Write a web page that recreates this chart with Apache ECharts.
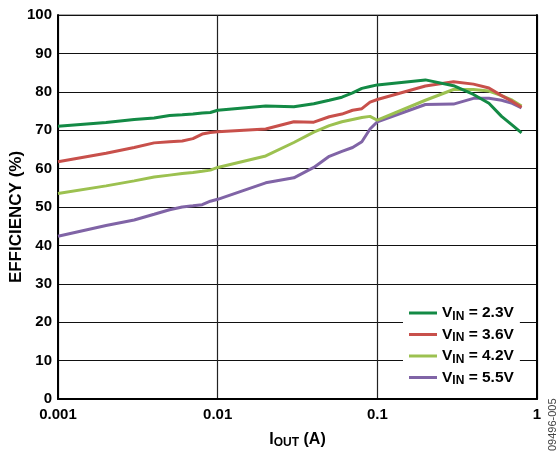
<!DOCTYPE html>
<html>
<head>
<meta charset="utf-8">
<script src="https://cdn.jsdelivr.net/npm/echarts@6/dist/echarts.min.js"></script>
<style>html,body{margin:0;padding:0;background:#fff}#c{width:556px;height:451px}</style>
</head>
<body>
<div id="c"></div>
<script>
var iout = [0.001,0.002,0.003,0.004,0.005,0.006,0.007,0.008,0.009,0.01,0.02,0.03,0.04,0.05,0.06,0.07,0.08,0.09,0.1,0.2,0.3,0.4,0.5,0.6,0.7,0.8];
var vin23 = [71,72,72.8,73.2,73.8,74,74.2,74.5,74.6,75.2,76.3,76.1,76.9,77.8,78.6,79.7,80.9,81.4,81.8,83.1,81.6,79.3,77,73.6,71.3,69.3];
var vin36 = [61.8,64,65.5,66.7,67,67.2,67.8,69,69.4,69.6,70.3,72.2,72.1,73.5,74.2,75.2,75.6,77.3,78,81.5,82.6,82,81,79,77.5,76];
var vin42 = [53.5,55.5,56.8,57.8,58.3,58.7,59,59.3,59.6,60.3,63.3,66.8,69.5,71.2,72.2,72.8,73.3,73.6,72.6,77.8,80.6,80.6,80.2,79,77.8,76.3];
var vin55 = [42.4,45.2,46.6,48.1,49.3,50,50.3,50.6,51.5,52,56.3,57.6,60.3,63.2,64.5,65.5,67,70.3,72.2,76.7,76.8,78.3,78.3,77.8,77,75.8];
var seriesNames = ['2.3V','3.6V','4.2V','5.5V'];
var seriesData = [vin23, vin36, vin42, vin55];
var colors = ['#138a45','#c8504b','#9cc150','#8064a6'];
var xTicks = ['0.001','0.01','0.1','1'];

function pairs(arr){ return iout.map(function(x,i){ return [x, arr[i]]; }); }

var chart = echarts.init(document.getElementById('c'));
var font = 'Liberation Sans, Arial, sans-serif';
chart.setOption({
  animation: false,
  backgroundColor: '#fff',
  grid: {left: 58, top: 15, right: 19, bottom: 52, show: true, borderColor: '#555', borderWidth: 1,
    containLabel: false, outerBoundsMode: 'none'},
  xAxis: {
    type: 'log', logBase: 10, min: 0.001, max: 1,
    name: '{a|I}{b|OUT}{a| (A)}', nameLocation: 'middle', nameGap: 31,
    nameTextStyle: {rich: {
      a: {fontFamily: font, fontWeight: 'bold', fontSize: 16, color: '#000'},
      b: {fontFamily: font, fontWeight: 'bold', fontSize: 12, color: '#000', padding: [7,0,0,0]}
    }},
    axisLine: {lineStyle: {color: '#000', width: 2}},
    axisTick: {show: false},
    axisLabel: {fontFamily: font, fontWeight: 'bold', fontSize: 15, color: '#000', margin: 8,
      formatter: function(v){ var s = String(+v.toPrecision(3)); return xTicks.indexOf(s) >= 0 ? s : ''; }},
    splitLine: {show: true, lineStyle: {color: '#222', width: 1.2}},
    minorSplitLine: {show: false}
  },
  yAxis: [{
    type: 'value', min: 0, max: 100, interval: 10,
    axisLine: {show: true, lineStyle: {color: '#000', width: 2}},
    axisTick: {show: false},
    axisLabel: {fontFamily: font, fontWeight: 'bold', fontSize: 15, color: '#000', margin: 6},
    splitLine: {show: true, lineStyle: {color: '#111', width: 1}}
  },{
    type: 'value', min: 0, max: 100, interval: 10, position: 'right',
    axisLine: {show: true, lineStyle: {color: '#000', width: 2}},
    axisTick: {show: false}, axisLabel: {show: false}, splitLine: {show: false}
  }],
  legend: {
    orient: 'vertical', left: 403, top: 301,
    backgroundColor: '#fff', padding: [4, 6, 4, 6],
    itemWidth: 28, itemHeight: 3, itemGap: 4, icon: 'rect',
    data: seriesNames.map(function(n){ return 'VIN = ' + n; }),
    formatter: function(name){ return '{a|V}{b|IN}{a|' + name.slice(3) + '}'; },
    textStyle: {rich: {
      a: {fontFamily: font, fontWeight: 'bold', fontSize: 15.5, color: '#000'},
      b: {fontFamily: font, fontWeight: 'bold', fontSize: 12, color: '#000', padding: [7,0,0,0]}
    }}
  },
  graphic: [{
    type: 'text', x: 547, y: 451, rotation: Math.PI/2,
    style: {text: '09496-005', fontFamily: font, fontSize: 11, fill: '#444', align: 'left', verticalAlign: 'top'}
  },{
    type: 'text', x: 16.5, y: 217, rotation: Math.PI/2,
    style: {text: 'EFFICIENCY (%)', fontFamily: font, fontWeight: 'bold', fontSize: 17, fill: '#000', align: 'center', verticalAlign: 'middle'}
  }],
  series: seriesData.map(function(d, i){
    return {
      name: 'VIN = ' + seriesNames[i], type: 'line', data: pairs(d),
      showSymbol: false, symbol: 'none', smooth: false,
      lineStyle: {color: colors[i], width: 3}, itemStyle: {color: colors[i]},
      z: 3 + (3 - i)
    };
  })
});
</script>
</body>
</html>
